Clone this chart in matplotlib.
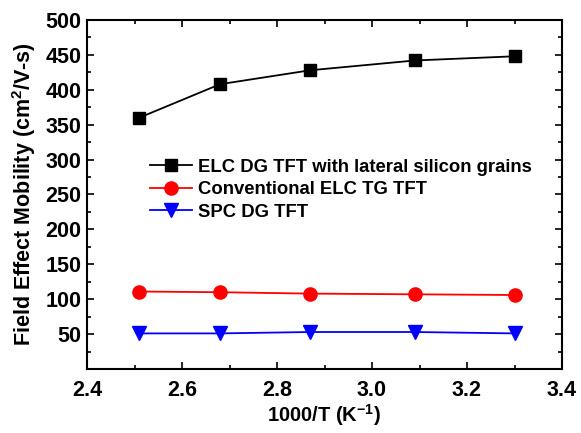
import matplotlib
matplotlib.use("Agg")
import matplotlib.pyplot as plt
from matplotlib.ticker import MultipleLocator, FormatStrFormatter

# data
inv_t = [2.51, 2.68, 2.87, 3.09, 3.30]
elc_dg_lateral = [360, 408, 428, 442, 448]
elc_tg_conv = [111, 110, 108, 107, 106]
spc_dg = [51, 51, 53, 53, 51]

labels = ["ELC DG TFT with lateral silicon grains",
          "Conventional ELC TG TFT",
          "SPC DG TFT"]

plt.rcParams['font.family'] = ['Liberation Sans', 'DejaVu Sans']
plt.rcParams['font.weight'] = 'bold'
plt.rcParams['mathtext.fontset'] = 'custom'
plt.rcParams['mathtext.rm'] = 'Liberation Sans:bold'
plt.rcParams['mathtext.bf'] = 'Liberation Sans:bold'

fig = plt.figure(figsize=(5.81, 4.33), dpi=100)
ax = fig.add_axes([87 / 581, 1 - 369 / 433, (562 - 87) / 581, (369 - 20) / 433])

ax.plot(inv_t, elc_dg_lateral, '-s', color='black', lw=1.3, ms=8.5, label=labels[0])
ax.plot(inv_t, elc_tg_conv, '-o', color='red', lw=1.3, ms=9.5, label=labels[1])
ax.plot(inv_t, spc_dg, '-v', color='blue', lw=1.3, ms=9.5, label=labels[2])

ax.set_xlim(2.4, 3.4)
ax.set_ylim(0, 500)
ax.xaxis.set_major_locator(MultipleLocator(0.2))
ax.xaxis.set_minor_locator(MultipleLocator(0.1))
ax.yaxis.set_minor_locator(MultipleLocator(25))
ax.set_yticks(range(50, 501, 50))
ax.tick_params(which='both', direction='in', top=True, right=True, width=1.2)
ax.tick_params(which='major', length=5, labelsize=15.5)
ax.tick_params(axis='y', which='major', pad=4)
ax.tick_params(axis='x', which='major', pad=8)
ax.tick_params(which='minor', length=3)
ax.xaxis.set_major_formatter(FormatStrFormatter('%.1f'))
for s in ax.spines.values():
    s.set_linewidth(1.5)

ax.set_xlabel('1000/T (K$^{-1}$)', fontsize=14.5, fontweight='bold', labelpad=1)
ax.set_ylabel('Field Effect Mobility (cm$^{2}$/V-s)', fontsize=15.5, fontweight='bold', labelpad=5)

ax.legend(loc='upper left', bbox_to_anchor=(0.132, 0.603), frameon=False, fontsize=13.3,
          handlelength=2.3, handletextpad=0.3, labelspacing=0.3, borderaxespad=0,
          borderpad=0)

fig.savefig('out.png', dpi=100)
